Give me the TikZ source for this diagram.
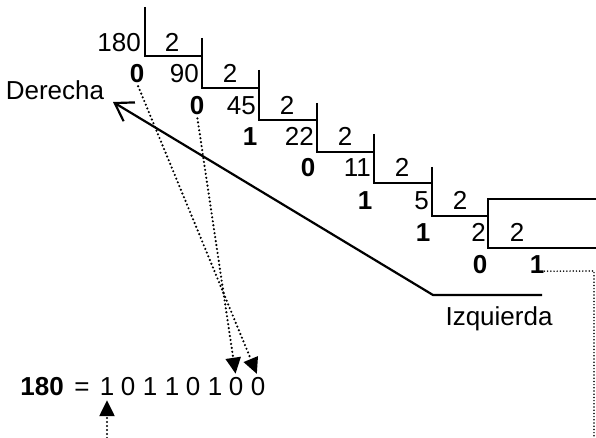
\documentclass[tikz,border=0pt]{standalone}
\usepackage{fontspec}
\setmainfont{Liberation Sans}
\usetikzlibrary{arrows.meta}
\begin{document}
\begin{tikzpicture}[x=1pt,y=-1pt,
  txt/.style={anchor=base,inner sep=0pt,font=\fontsize{26}{31}\selectfont},
  quo/.style={txt,anchor=base east},
  rem/.style={txt,font=\fontsize{26}{31}\selectfont\bfseries},
  divline/.style={line width=1.3pt},
  dotline/.style={line width=2.4pt,line cap=round,dash pattern=on 0pt off 4pt},
  thindot/.style={line width=1.7pt,line cap=round,dash pattern=on 0pt off 3.2pt},
  dotarrow/.style={dotline,-{Triangle[length=16pt,width=15pt]}},
  mainline/.style={line width=2.2pt}
]
\useasboundingbox (0,0) rectangle (596,438);

% division brackets
\draw[divline] (145,7) -- (145,56) -- (202,56);
\draw[divline] (202,38) -- (202,88) -- (259,88);
\draw[divline] (259,70) -- (259,120) -- (317,120);
\draw[divline] (317,103) -- (317,152) -- (374,152);
\draw[divline] (374,134) -- (374,183) -- (432,183);
\draw[divline] (432,167) -- (432,216) -- (488,216);
\draw[divline] (596,199) -- (488,199) -- (488,248) -- (596,248);

% division numbers
\node[quo] (q0) at (141,52) {180};
\node[txt] (d0) at (172,52) {2};
\node[rem] (r1) at (137,83) {0};
\node[quo] (q1) at (199,83) {90};
\node[txt] (d1) at (230,83) {2};
\node[rem] (r2) at (197,115) {0};
\node[quo] (q2) at (256,115) {45};
\node[txt] (d2) at (287,115) {2};
\node[rem] (r3) at (250,146) {1};
\node[quo] (q3) at (314,146) {22};
\node[txt] (d3) at (345,146) {2};
\node[rem] (r4) at (308,177) {0};
\node[quo] (q4) at (371,177) {11};
\node[txt] (d4) at (402,177) {2};
\node[rem] (r5) at (365,210) {1};
\node[quo] (q5) at (429,210) {5};
\node[txt] (d5) at (460,210) {2};
\node[rem] (r6) at (423,241) {1};
\node[quo] (q6) at (486,241) {2};
\node[txt] (d6) at (517,241) {2};
\node[rem] (r7) at (480,273) {0};
\node[rem] (q7) at (537,273) {1};

% result row
\node[rem,anchor=base east] (n180) at (64,395) {180};
\node[txt] (eq) at (82,395) {=};
\node[txt] (b1) at (107,395) {1};
\node[txt] (b2) at (128,395) {0};
\node[txt] (b3) at (150,395) {1};
\node[txt] (b4) at (172,395) {1};
\node[txt] (b5) at (193,395) {0};
\node[txt] (b6) at (215,395) {1};
\node[txt] (b7) at (236,395) {0};
\node[txt] (b8) at (258,395) {0};

% labels
\node[txt] (der) at (55,100) {Derecha};
\node[txt] (izq) at (499,325) {Izquierda};

% reading direction line
\coordinate (izA) at (542,295);
\coordinate (izB) at (433,295);
\coordinate (derTip) at (113,102);
\draw[mainline,-{Straight Barb[length=17pt,width=22pt]}] (izA) -- (izB) -- (derTip);

% dotted connectors
\draw[dotarrow,shorten <=3pt,shorten >=3pt] (r1.south) -- (b8.north);
\draw[dotarrow,shorten <=3pt,shorten >=3pt] (r2.south) -- (b7.north);
\coordinate (wr1) at (594,271);
\coordinate (wr2) at (594,438);
\coordinate (wl) at (107,438);
\draw[thindot] ([yshift=2pt]q7.south east) -- (wr1) -- (wr2);
\draw[dotarrow,shorten >=5pt] (wl) -- (b1.south);
\end{tikzpicture}
\end{document}
